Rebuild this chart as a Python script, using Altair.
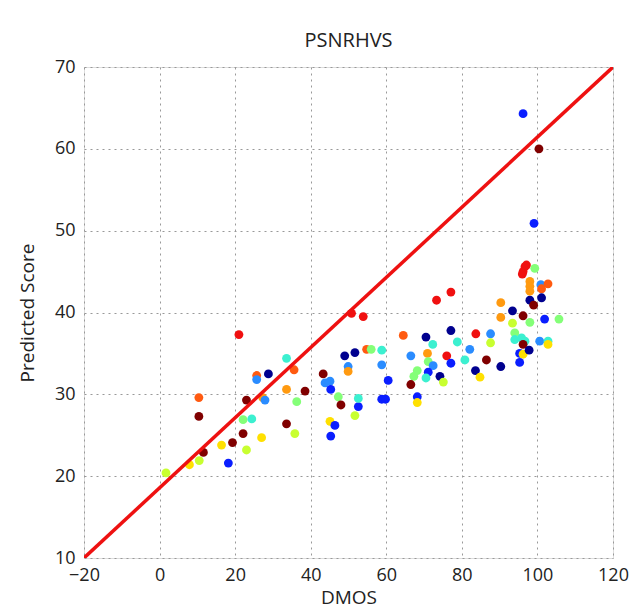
import altair as alt
import pandas as pd

dmos = [1.7, 10.4, 10.4, 11.6, 10.5, 7.9, 21.0, 25.7, 25.7, 28.8,
        23.0, 27.3, 27.9, 22.1, 24.4, 22.1, 19.3, 16.4, 27.0, 23.0,
        18.2, 33.6, 35.6, 33.6, 38.5, 36.3, 33.6, 35.8, 43.3, 43.8,
        45.1, 45.3, 49.0, 51.7, 49.9, 49.9, 47.3, 48.0, 52.6, 51.7,
        45.1, 46.4, 45.3, 52.6, 50.8, 53.9, 54.8, 56.0, 58.8, 58.8,
        60.5, 58.8, 59.8, 64.5, 70.5, 72.3, 66.5, 70.9, 71.1, 68.2,
        72.4, 71.1, 70.5, 67.3, 66.5, 74.2, 75.1, 68.2, 68.2, 77.1,
        76.0, 77.1, 78.8, 82.1, 80.8, 83.7, 87.6, 87.6, 86.5, 83.6,
        84.8, 90.3, 73.3, 77.1, 90.3, 90.3, 93.4, 96.2, 98.0, 101.9,
        105.7, 93.4, 94.0, 94.0, 95.8, 96.7, 96.2, 95.3, 96.2, 97.8,
        95.3, 100.6, 102.8, 102.8, 98.0, 99.0, 96.7, 96.2, 96.0, 97.1,
        99.3, 98.0, 98.0, 98.0, 100.9, 102.8, 101.1, 101.1, 96.2, 100.4,
        99.1]
score = [20.4, 29.6, 27.3, 22.9, 21.9, 21.4, 37.3, 32.3, 31.8, 32.5,
         29.3, 29.6, 29.3, 26.9, 27.0, 25.2, 24.1, 23.8, 24.7, 23.2,
         21.6, 34.4, 33.0, 30.6, 30.4, 29.1, 26.4, 25.2, 32.5, 31.4,
         31.6, 30.6, 34.7, 35.1, 33.4, 32.8, 29.7, 28.7, 28.5, 27.4,
         26.7, 26.2, 24.9, 29.5, 39.9, 39.5, 35.5, 35.5, 35.4, 33.6,
         31.7, 29.4, 29.4, 37.2, 37.0, 36.1, 34.7, 35.0, 34.0, 32.9,
         33.5, 32.7, 32.0, 32.2, 31.2, 32.2, 31.5, 29.7, 29.0, 37.8,
         34.7, 33.8, 36.4, 35.5, 34.2, 37.4, 37.4, 36.3, 34.2, 32.9,
         32.1, 33.4, 41.5, 42.5, 41.2, 39.4, 40.2, 39.6, 38.8, 39.2,
         39.2, 38.7, 37.5, 36.7, 36.9, 36.5, 36.1, 35.0, 34.9, 35.4,
         33.9, 36.5, 36.5, 36.1, 41.5, 40.9, 45.6, 45.0, 44.7, 45.8,
         45.4, 43.8, 43.2, 42.6, 43.4, 43.5, 42.9, 41.8, 64.3, 60.0,
         50.9]
group = ["ygreen", "orangered", "darkred", "darkred", "ygreen", "yellow", "red", "orangered", "lightblue", "navy",
         "darkred", "orange", "lightblue", "green", "cyan", "darkred", "darkred", "yellow", "yellow", "ygreen",
         "blue", "cyan", "orangered", "orange", "darkred", "green", "darkred", "ygreen", "darkred", "lightblue",
         "lightblue", "blue", "navy", "navy", "lightblue", "orange", "green", "darkred", "blue", "ygreen",
         "yellow", "blue", "blue", "cyan", "red", "red", "orangered", "green", "cyan", "lightblue",
         "blue", "blue", "blue", "orangered", "navy", "cyan", "lightblue", "orange", "green", "green",
         "lightblue", "blue", "cyan", "green", "darkred", "navy", "ygreen", "blue", "yellow", "navy",
         "red", "blue", "cyan", "lightblue", "cyan", "red", "lightblue", "ygreen", "darkred", "navy",
         "yellow", "navy", "red", "red", "orange", "orange", "navy", "darkred", "green", "blue",
         "green", "ygreen", "green", "cyan", "cyan", "cyan", "darkred", "blue", "yellow", "navy",
         "blue", "lightblue", "cyan", "yellow", "navy", "darkred", "red", "red", "red", "red",
         "green", "orange", "orange", "orange", "lightblue", "orangered", "orangered", "navy", "blue", "darkred",
         "blue"]

group_names = ["navy", "blue", "lightblue", "cyan", "green", "ygreen", "yellow", "orange", "orangered", "red", "darkred"]
group_colors = ["#00008f", "#0a1eff", "#2a8cff", "#3cf0d0", "#84ff78", "#c8ff30", "#ffe000", "#ff9a10", "#ff5a10", "#f01010", "#800000"]

line_x = [-20, 120]
line_y = [10, 70]

df = pd.DataFrame({"DMOS": dmos, "Score": score, "group": group})
line_df = pd.DataFrame({"DMOS": line_x, "Score": line_y})

font = "Open Sans"

xscale = alt.Scale(domain=[-20, 120], nice=False, zero=False)
yscale = alt.Scale(domain=[10, 70], nice=False, zero=False)

xaxis = alt.Axis(title="DMOS", values=list(range(-20, 121, 20)), labelExpr="replace(datum.label, '-', '\u2212')",
                 grid=True, gridDash=[2, 4], gridColor="#999999", gridWidth=1, labelFlush=False,
                 domain=False, ticks=False, labelPadding=8, labelFontSize=18, labelColor="#222222",
                 titleFontSize=19, titleFontWeight="normal", titlePadding=4, titleColor="#222222",
                 labelFont=font, titleFont=font)
yaxis = alt.Axis(title="Predicted Score", values=list(range(10, 71, 10)), labelFlush=False,
                 grid=True, gridDash=[2, 4], gridColor="#999999", gridWidth=1,
                 domain=False, ticks=False, labelPadding=9, labelFontSize=18, labelColor="#222222",
                 titleFontSize=19, titleFontWeight="normal", titlePadding=17, titleColor="#222222",
                 labelFont=font, titleFont=font)

points = alt.Chart(df).mark_circle(size=78, opacity=1).encode(
    x=alt.X("DMOS:Q", scale=xscale, axis=xaxis),
    y=alt.Y("Score:Q", scale=yscale, axis=yaxis),
    color=alt.Color("group:N", scale=alt.Scale(domain=group_names, range=group_colors), legend=None),
)

line = alt.Chart(line_df).mark_line(color="#ee1111", strokeWidth=3.5, clip=True).encode(
    x=alt.X("DMOS:Q", scale=xscale),
    y=alt.Y("Score:Q", scale=yscale),
)

chart = alt.layer(points, line).properties(
    width=529, height=491,
    title=alt.TitleParams("PSNRHVS", fontSize=20, fontWeight="normal", font=font, color="#222222", offset=7),
    autosize=alt.AutoSizeParams(type="none"),
    padding={"left": 84, "top": 67, "right": 22, "bottom": 57},
).configure_view(stroke="#444444", strokeWidth=1.5).configure(background="white")

chart.save("out.html", embed_options={"renderer": "svg", "actions": False})
